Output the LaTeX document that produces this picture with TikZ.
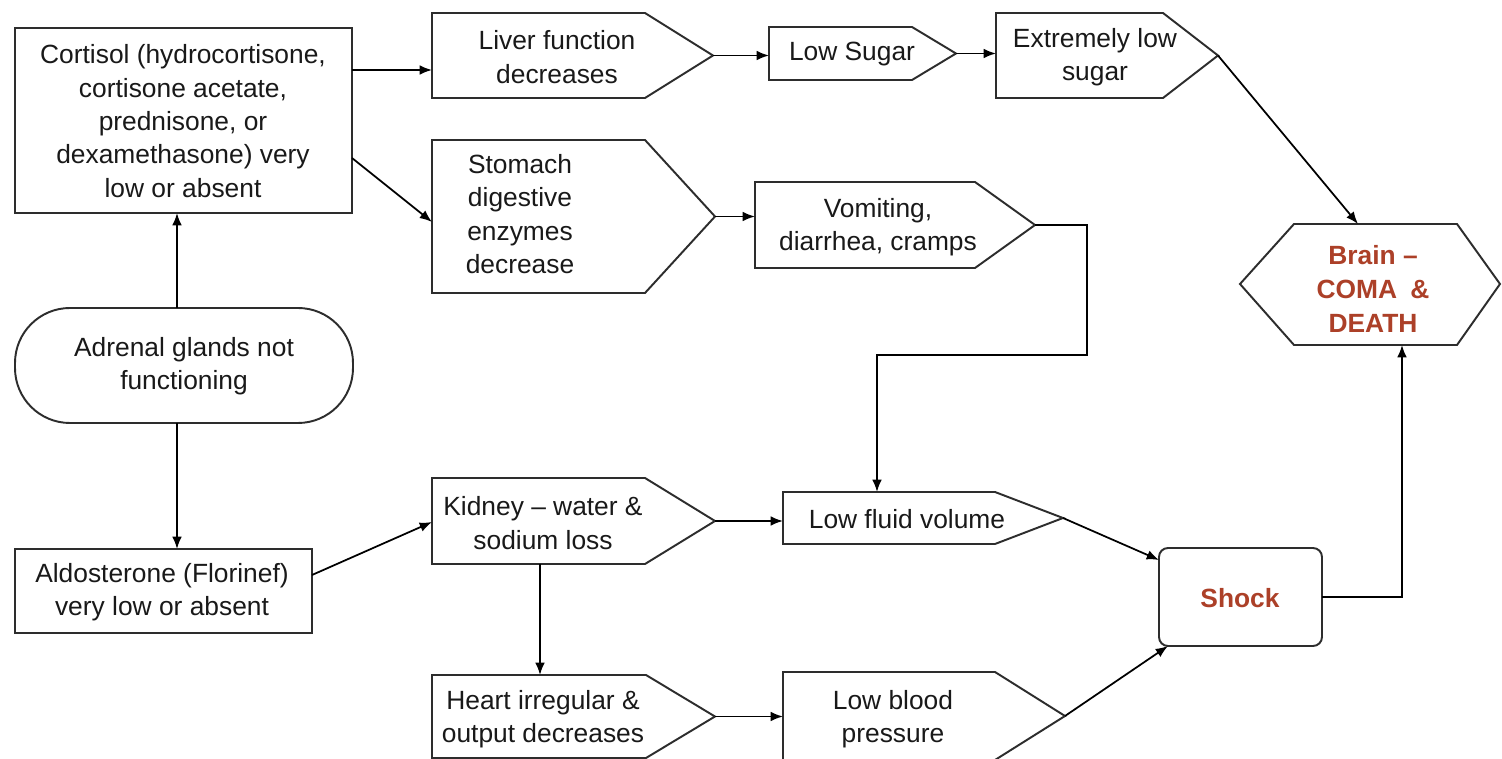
\documentclass[tikz,border=0pt]{standalone}
\usepackage{fontspec}
\setmainfont{Liberation Sans}
\usetikzlibrary{arrows.meta,fit,calc}
\definecolor{redtxt}{RGB}{172,64,40}
\definecolor{edgecol}{RGB}{45,45,45}
\newcommand\pentbox[6]{% name, x1, y1, xflat, xtip, y2
  \draw[outline] (#2,#3) -- (#4,#3) -- (#5,{(#3+#6)/2}) -- (#4,#6) -- (#2,#6) -- cycle;
  \node[frame, fit={(#2,#3)(#5,#6)}] (#1) {};
}
\begin{document}
\begin{tikzpicture}[x=0.02cm,y=-0.02cm,
  outline/.style={draw=edgecol, line width=1.1pt, fill=white},
  frame/.style={inner sep=0pt, outer sep=0pt},
  txt/.style={align=center, font=\fontsize{15}{19}\selectfont, text=black!90, inner sep=0pt},
  hot/.style={align=center, font=\fontsize{15}{19.5}\selectfont\bfseries, text=redtxt, inner sep=0pt},
  conn/.style={draw=black, line width=1pt, -{Latex[length=7pt,width=5.5pt]}},
]
\fill[white] (0,0) rectangle (1502,759);
\useasboundingbox (0,0) rectangle (1502,759);

% rectangular / rounded boxes
\node[frame, fit={(15,28)(352,213)}, draw=edgecol, line width=1.1pt] (cortisol) {};
\node[txt] (cortisol-t) at (183,121)
  {Cortisol (hydrocortisone,\\cortisone acetate,\\prednisone, or\\dexamethasone) very\\low or absent};
\node[frame, fit={(15,308)(353,423)}, draw=edgecol, line width=1.1pt, rounded corners=1.1cm] (adrenal) {};
\node[txt] (adrenal-t) at (184,366) {Adrenal glands not\\functioning};
\node[frame, fit={(15,549)(312,633)}, draw=edgecol, line width=1.1pt] (aldost) {};
\node[txt] (aldost-t) at (162,592) {Aldosterone (Florinef)\\very low or absent};
\node[frame, fit={(1159,548)(1322,646)}, draw=edgecol, line width=1.1pt, rounded corners=0.18cm] (shock) {};
\node[hot] (shock-t) at (1240,598) {Shock};

% pentagon (arrow-shaped) boxes
\pentbox{liver}{432}{13}{645}{713}{98}
\node[txt] (liver-t) at (557,57) {Liver function\\decreases};
\pentbox{lowsugar}{769}{27}{912}{956}{80}
\node[txt] (lowsugar-t) at (852,54) {Low Sugar};
\pentbox{extreme}{996}{13}{1163}{1218}{98}
\node[txt] (extreme-t) at (1095,57) {Extremely low\\sugar};
\pentbox{stomach}{432}{140}{645}{715}{293}
\node[txt] (stomach-t) at (520,214) {Stomach\\digestive\\enzymes\\decrease};
\pentbox{vomit}{755}{182}{975}{1035}{268}
\node[txt] (vomit-t) at (878,227) {Vomiting,\\diarrhea, cramps};
\pentbox{kidney}{432}{478}{645}{715}{564}
\node[txt] (kidney-t) at (543,523) {Kidney -- water \&\\sodium loss};
\pentbox{lowfluid}{783}{492}{995}{1063}{544}
\node[txt] (lowfluid-t) at (907,519) {Low fluid volume};
\pentbox{heart}{432}{675}{646}{715}{758}
\node[txt] (heart-t) at (543,719) {Heart irregular \&\\output decreases};
\pentbox{lowblood}{783}{672}{995}{1065}{760}
\node[txt] (lowblood-t) at (893,719) {Low blood\\pressure};

% hexagon
\draw[outline] (1240,284) -- (1294,224) -- (1457,224) -- (1500,284) -- (1457,345) -- (1294,345) -- cycle;
\node[frame, fit={(1240,224)(1500,345)}] (brain) {};
\node[hot] (brain-t) at (1373,289) {Brain --\\COMA\enspace\&\\DEATH};

% connectors
\draw[conn] (adrenal.north -| 177,0) -- (cortisol.south -| 177,0);
\draw[conn] (adrenal.south -| 177,0) -- (aldost.north -| 177,0);
\draw[conn] (cortisol.east |- 0,70) -- (liver.west |- 0,70);
\draw[conn] (cortisol.east |- 0,158) -- (stomach.west |- 0,222);
\draw[conn] (liver.east) -- (liver.east -| lowsugar.west);
\draw[conn] (lowsugar.east) -- (lowsugar.east -| extreme.west);
\draw[conn] (extreme.east) -- (brain.north -| 1358,0);
\draw[conn] (stomach.east) -- (stomach.east -| vomit.west);
\draw[conn] (vomit.east) -| (1087,355) -| (lowfluid.north -| 877,0);
\draw[conn] (aldost.east |- 0,575) -- (kidney.west |- 0,522);
\draw[conn] (kidney.east) -- (kidney.east -| lowfluid.west);
\draw[conn] (kidney.south -| 540,0) -- (heart.north -| 540,0);
\draw[conn] (heart.east) -- (heart.east -| lowblood.west);
\draw[conn] (lowfluid.east) -- (shock.west |- 0,560);
\draw[conn] (lowblood.east) -- (shock.south -| 1168,0);
\draw[conn] (shock.east) -| (brain.south -| 1402,0);
\end{tikzpicture}
\end{document}
